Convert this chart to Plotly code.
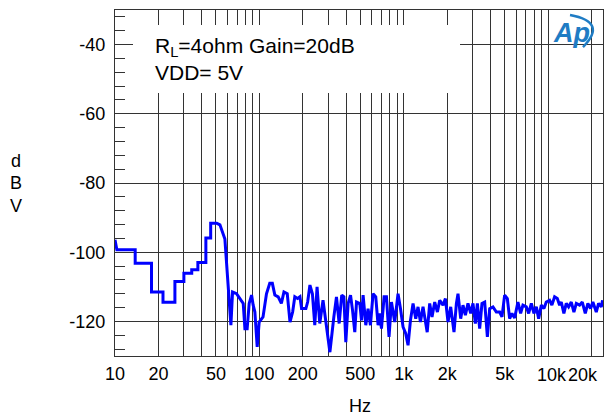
import math
import plotly.graph_objects as go

# Noise floor spectrum (dBV) versus frequency (Hz)
freq_hz = [
    10.0, 10.3, 13.8, 13.8, 17.9, 17.9, 21.5, 21.5, 26.0, 26.0,
    30.0, 30.0, 34.0, 34.0, 37.5, 37.5, 42.6, 42.6, 46.0, 46.0,
    50.6, 53.3, 57.7, 59.9, 63.5, 65.2, 69.5, 73.3, 77.3, 79.4,
    82.3, 85.0, 88.3, 90.6, 93.1, 96.6, 99.7, 106, 112, 118,
    123, 128, 135, 142, 148, 156, 163, 170, 176, 184,
    191, 196, 210, 216, 224, 233, 242, 251, 262, 276,
    289, 308, 328, 342, 357, 372, 385, 397, 412, 428,
    442, 458, 471, 496, 510, 523, 546, 566, 588, 613,
    640, 664, 682, 701, 731, 759, 791, 822, 866, 913,
    949, 989, 1032, 1071, 1113, 1160, 1211, 1256, 1305, 1360,
    1454, 1513, 1570, 1639, 1711, 1775, 1871, 1944, 2026, 2115,
    2229, 2316, 2376, 2480, 2573, 2673, 2786, 2909, 3017, 3134,
    3236, 3357, 3483, 3636, 3796, 3938, 4150, 4381, 4618, 4791,
    5000, 5219, 5415, 5617, 5864, 6180, 6452, 6693, 7066, 7331,
    7653, 7976, 8287, 8598, 8974, 9354, 9716, 10240, 10620, 11090,
    11580, 12010, 12340, 12860, 13360, 13870, 14470, 15090, 15680, 16520,
    17250, 18090, 18860, 19690, 20420, 21560, 22360, 23350, 23840,
]
level_dbv = [
    -96.4, -99.3, -99.3, -103.2, -103.2, -111.5, -111.5, -114.5, -114.5, -108.5,
    -108.5, -106.1, -106.1, -105.1, -105.1, -103.0, -103.0, -95.9, -95.9, -91.6,
    -91.6, -92.1, -96.2, -106.6, -121.1, -111.5, -112.0, -113.4, -114.8, -122.1,
    -122.1, -114.8, -112.4, -115.3, -117.3, -127.4, -120.2, -118.7, -112.0, -109.0,
    -109.0, -112.4, -112.9, -114.8, -111.5, -112.0, -120.2, -117.3, -112.9, -113.4,
    -112.9, -116.3, -116.3, -114.4, -109.5, -112.0, -121.1, -110.0, -120.6, -113.9,
    -119.7, -128.9, -118.7, -112.9, -120.6, -112.4, -112.9, -126.0, -114.8, -112.4,
    -116.8, -123.1, -114.4, -114.8, -119.7, -112.4, -121.1, -116.3, -121.1, -112.0,
    -112.9, -121.1, -117.7, -122.1, -112.9, -112.9, -124.5, -114.4, -120.2, -112.0,
    -116.3, -121.6, -123.5, -126.9, -119.7, -114.8, -119.2, -115.8, -120.2, -115.8,
    -123.1, -114.8, -118.7, -114.4, -117.3, -113.9, -115.3, -113.4, -120.2, -115.8,
    -123.1, -114.8, -112.0, -119.2, -115.3, -118.2, -114.8, -117.7, -114.8, -120.6,
    -114.8, -122.1, -114.8, -114.4, -124.5, -116.3, -115.8, -117.3, -117.3, -118.7,
    -112.4, -113.4, -119.2, -117.7, -119.0, -114.4, -117.7, -115.3, -115.8, -117.7,
    -114.8, -117.7, -115.8, -119.2, -115.3, -116.3, -114.4, -113.9, -115.3, -112.9,
    -113.4, -115.3, -114.4, -117.7, -114.8, -115.8, -114.4, -117.3, -114.8, -115.3,
    -114.4, -117.7, -114.8, -116.3, -114.4, -117.3, -114.8, -115.8, -113.9,
]

# Log grid: every 1..9 multiple per decade, labels only on a few
x_grid_hz = [10, 20, 30, 40, 50, 60, 70, 80, 90,
             100, 200, 300, 400, 500, 600, 700, 800, 900,
             1000, 2000, 3000, 4000, 5000, 6000, 7000, 8000, 9000,
             10000, 20000]
x_tick_labels = {10: "10", 20: "20", 50: "50", 100: "100", 200: "200",
                 500: "500", 1000: "1k", 2000: "2k", 5000: "5k"}
# crowded labels at the top end, nudged sideways (px) to stay on the page
x_edge_labels = {10000: ("10k", 4), 20000: ("20k", -9)}
y_tick_values = [-40, -60, -80, -100, -120]
y_tick_labels = ["-40", "-60", "-80", "-100", "-120"]

x_range_hz = [10, 24000]
y_range_db = [-130, -30]

FONT = "Liberation Sans, Arial, Helvetica, sans-serif"
GRID = "#333333"

fig = go.Figure()
fig.add_trace(go.Scatter(
    x=freq_hz, y=level_dbv, mode="lines",
    line=dict(color="#0000ff", width=3),
    hoverinfo="skip",
))

fig.update_layout(
    width=605, height=415,
    margin=dict(l=115, r=2, t=10, b=59, autoexpand=False),
    paper_bgcolor="white", plot_bgcolor="white",
    showlegend=False,
    font=dict(family=FONT, size=18, color="black"),
)

fig.update_xaxes(
    type="log",
    range=[math.log10(x_range_hz[0]), math.log10(x_range_hz[1])],
    tickmode="array",
    tickvals=x_grid_hz,
    ticktext=[x_tick_labels.get(v, "") for v in x_grid_hz],
    tickangle=0,
    ticks="",
    ticklabelstandoff=1,
    showgrid=True, gridcolor=GRID, gridwidth=1.2,
    showline=True, mirror=True, linecolor=GRID, linewidth=1.2,
    zeroline=False, automargin=False,
)
fig.update_yaxes(
    range=y_range_db,
    tickmode="array",
    tickvals=y_tick_values,
    ticktext=y_tick_labels,
    ticks="",
    ticklabelstandoff=5,
    showgrid=True, gridcolor=GRID, gridwidth=1.2,
    minor=dict(ticks="inside", ticklen=10, tickcolor=GRID, tickwidth=1.2,
               tick0=-40, dtick=4, showgrid=False),
    showline=True, mirror=True, linecolor=GRID, linewidth=1.2,
    zeroline=False, automargin=False,
)

for hz, (label, shift) in x_edge_labels.items():
    fig.add_annotation(text=label, xref="x", yref="paper",
                       x=math.log10(hz), y=(356 - 375) / 346, xshift=shift,
                       xanchor="center", yanchor="middle", showarrow=False,
                       font=dict(family=FONT, size=18, color="black"))

# White panel behind the condition text
fig.add_shape(type="rect", xref="paper", yref="paper",
              x0=0.0369, x1=0.707, y0=0.760, y1=0.9566,
              fillcolor="white", line=dict(width=0), layer="above")

fig.add_annotation(text="R<sub>L</sub>=4ohm Gain=20dB", xref="paper", yref="paper",
                   x=0.0779, y=0.893, xanchor="left", yanchor="middle",
                   showarrow=False, font=dict(family=FONT, size=21, color="black"))
fig.add_annotation(text="VDD= 5V", xref="paper", yref="paper",
                   x=0.0779, y=0.819, xanchor="left", yanchor="middle",
                   showarrow=False, font=dict(family=FONT, size=21, color="black"))

# Vertical unit label
for letter, ypx in (("d", 161), ("B", 183), ("V", 206)):
    fig.add_annotation(text=letter, xref="paper", yref="paper",
                       x=(16 - 115) / 488, y=(356 - ypx) / 346,
                       xanchor="center", yanchor="middle", showarrow=False,
                       font=dict(family=FONT, size=18, color="black"))

fig.add_annotation(text="Hz", xref="paper", yref="paper",
                   x=(360 - 115) / 488, y=(356 - 406) / 346,
                   xanchor="center", yanchor="middle", showarrow=False,
                   font=dict(family=FONT, size=18, color="black"))

# Logo mark
LOGO = "#1f7cc4"
fig.add_annotation(text="<b><i>Ap</i></b>", xref="paper", yref="paper",
                   x=(571 - 115) / 488, y=(356 - 33) / 346,
                   xanchor="center", yanchor="middle", showarrow=False,
                   font=dict(family=FONT, size=27, color=LOGO))
fig.add_shape(type="path", xref="paper", yref="paper",
              path="M 0.9324,0.9855 Q 1.0102,0.9653 0.959,0.893",
              line=dict(color=LOGO, width=2.5), layer="above")

fig.write_html("out.html")
